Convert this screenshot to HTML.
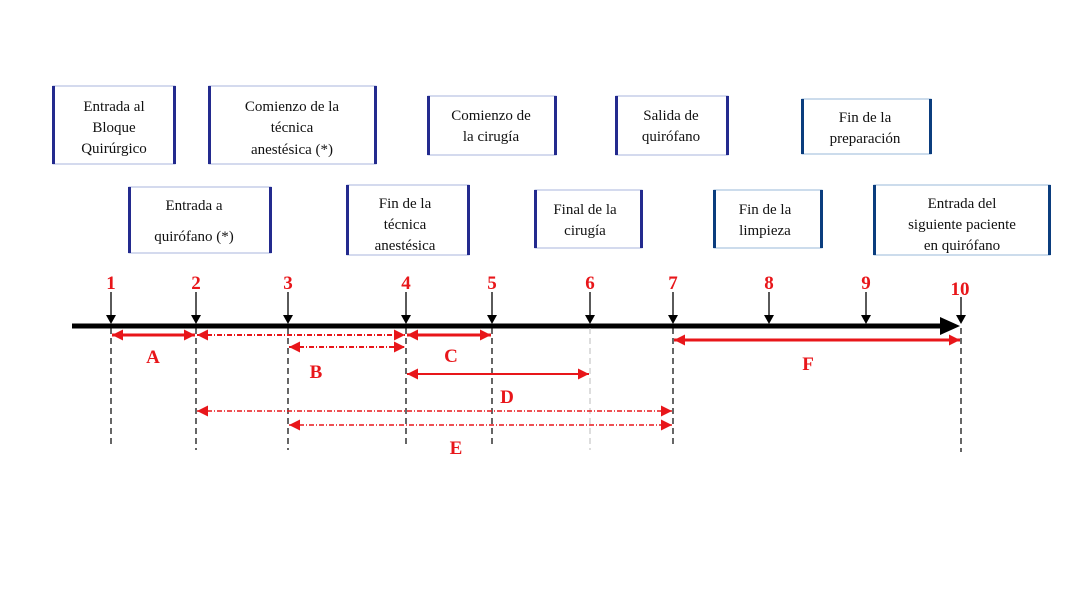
<!DOCTYPE html>
<html><head><meta charset="utf-8"><style>
html,body{margin:0;padding:0;background:#fff;}
svg{display:block;}
.bt{font-family:"Liberation Serif",serif;font-size:15px;fill:#111;text-anchor:middle;}
.rl{font-family:"Liberation Serif",serif;font-size:19px;font-weight:bold;fill:#e8161a;text-anchor:middle;}
</style></head><body>
<svg width="1084" height="601" viewBox="0 0 1084 601" xmlns="http://www.w3.org/2000/svg">
<defs>
<marker id="ar" viewBox="0 0 10 10" refX="10" refY="5" markerUnits="userSpaceOnUse" markerWidth="11" markerHeight="11" orient="auto-start-reverse"><path d="M0,0L10,5L0,10z" fill="#e8161a"/></marker>
</defs>
<g stroke-width="1" fill="#fff">
<g stroke="#aab4dd">
<rect x="53" y="86" width="122" height="78"/><rect x="209" y="86" width="167" height="78"/>
<rect x="428" y="96" width="128" height="59"/><rect x="616" y="96" width="112" height="59"/>
<rect x="129" y="187" width="142" height="66"/><rect x="347" y="185" width="122" height="70"/>
<rect x="535" y="190" width="107" height="58"/>
</g>
<g stroke="#9ab8d8">
<rect x="802" y="99" width="129" height="55"/><rect x="714" y="190" width="108" height="58"/>
<rect x="874" y="185" width="176" height="70"/>
</g>
</g>
<g fill="#232a8e">
<rect x="52" y="86" width="3" height="78"/><rect x="173" y="86" width="3" height="78"/>
<rect x="208" y="86" width="3" height="78"/><rect x="374" y="86" width="3" height="78"/>
<rect x="427" y="96" width="3" height="59"/><rect x="554" y="96" width="3" height="59"/>
<rect x="615" y="96" width="3" height="59"/><rect x="726" y="96" width="3" height="59"/>
<rect x="128" y="187" width="3" height="66"/><rect x="269" y="187" width="3" height="66"/>
<rect x="346" y="185" width="3" height="70"/><rect x="467" y="185" width="3" height="70"/>
<rect x="534" y="190" width="3" height="58"/><rect x="640" y="190" width="3" height="58"/>
</g>
<g fill="#0b3d7e">
<rect x="801" y="99" width="3" height="55"/><rect x="929" y="99" width="3" height="55"/>
<rect x="713" y="190" width="3" height="58"/><rect x="820" y="190" width="3" height="58"/>
<rect x="873" y="185" width="3" height="70"/><rect x="1048" y="185" width="3" height="70"/>
</g>
<g class="bt">
<text x="114" y="111">Entrada al</text><text x="114" y="132">Bloque</text><text x="114" y="153">Quirúrgico</text>
<text x="292" y="111">Comienzo de la</text><text x="292" y="132">técnica</text><text x="292" y="154">anestésica (*)</text>
<text x="491" y="120">Comienzo de</text><text x="491" y="141">la cirugía</text>
<text x="671" y="120">Salida de</text><text x="671" y="141">quirófano</text>
<text x="865" y="122">Fin de la</text><text x="865" y="143">preparación</text>
<text x="194" y="210">Entrada a</text><text x="194" y="241">quirófano (*)</text>
<text x="405" y="208">Fin de la</text><text x="405" y="229">técnica</text><text x="405" y="250">anestésica</text>
<text x="585" y="214">Final de la</text><text x="585" y="235">cirugía</text>
<text x="765" y="214">Fin de la</text><text x="765" y="235">limpieza</text>
<text x="962" y="208">Entrada del</text><text x="962" y="229">siguiente paciente</text><text x="962" y="250">en quirófano</text>
</g>
<line x1="72" y1="326" x2="945" y2="326" stroke="#000" stroke-width="5"/>
<path d="M940,317L960,326L940,335z" fill="#000"/>
<g stroke="#000" stroke-width="1.2" stroke-dasharray="6,4">
<line x1="111" y1="328" x2="111" y2="447"/><line x1="196" y1="328" x2="196" y2="450"/>
<line x1="288" y1="328" x2="288" y2="450"/><line x1="406" y1="328" x2="406" y2="447"/>
<line x1="492" y1="328" x2="492" y2="447"/><line x1="673" y1="328" x2="673" y2="447"/>
<line x1="961" y1="328" x2="961" y2="452"/>
</g>
<line x1="590" y1="328" x2="590" y2="450" stroke="#bbb" stroke-width="1" stroke-dasharray="6,4"/>
<g stroke="#000" stroke-width="1.3">
<line x1="111" y1="292" x2="111" y2="316"/><line x1="196" y1="292" x2="196" y2="316"/>
<line x1="288" y1="292" x2="288" y2="316"/><line x1="406" y1="292" x2="406" y2="316"/>
<line x1="492" y1="292" x2="492" y2="316"/><line x1="590" y1="292" x2="590" y2="316"/>
<line x1="673" y1="292" x2="673" y2="316"/><line x1="769" y1="292" x2="769" y2="316"/>
<line x1="866" y1="292" x2="866" y2="316"/><line x1="961" y1="297" x2="961" y2="316"/>
</g>
<g fill="#000">
<path d="M106,315h10l-5,9z"/><path d="M191,315h10l-5,9z"/><path d="M283,315h10l-5,9z"/>
<path d="M401,315h10l-5,9z"/><path d="M487,315h10l-5,9z"/><path d="M585,315h10l-5,9z"/>
<path d="M668,315h10l-5,9z"/><path d="M764,315h10l-5,9z"/><path d="M861,315h10l-5,9z"/>
<path d="M956,315h10l-5,9z"/>
</g>
<g class="rl">
<text x="111" y="289">1</text><text x="196" y="289">2</text><text x="288" y="289">3</text>
<text x="406" y="289">4</text><text x="492" y="289">5</text><text x="590" y="289">6</text>
<text x="673" y="289">7</text><text x="769" y="289">8</text><text x="866" y="289">9</text>
<text x="960" y="295">10</text>
<text x="153" y="363">A</text><text x="316" y="378">B</text><text x="451" y="362">C</text>
<text x="507" y="403">D</text><text x="456" y="454">E</text><text x="808" y="370">F</text>
</g>
<g stroke="#e8161a" fill="none">
<line x1="112" y1="335" x2="195" y2="335" stroke-width="3" marker-start="url(#ar)" marker-end="url(#ar)"/>
<line x1="197" y1="335" x2="405" y2="335" stroke-width="2" stroke-dasharray="5,2,1,2" marker-start="url(#ar)" marker-end="url(#ar)"/>
<line x1="289" y1="347" x2="405" y2="347" stroke-width="2" stroke-dasharray="5,2,1,2" marker-start="url(#ar)" marker-end="url(#ar)"/>
<line x1="407" y1="335" x2="491" y2="335" stroke-width="3" marker-start="url(#ar)" marker-end="url(#ar)"/>
<line x1="407" y1="374" x2="589" y2="374" stroke-width="2" marker-start="url(#ar)" marker-end="url(#ar)"/>
<line x1="197" y1="411" x2="672" y2="411" stroke-width="1.5" stroke-dasharray="5,2,1,2" marker-start="url(#ar)" marker-end="url(#ar)"/>
<line x1="289" y1="425" x2="672" y2="425" stroke-width="1.5" stroke-dasharray="5,2,1,2" marker-start="url(#ar)" marker-end="url(#ar)"/>
<line x1="674" y1="340" x2="960" y2="340" stroke-width="3" marker-start="url(#ar)" marker-end="url(#ar)"/>
</g>
</svg>
</body></html>
